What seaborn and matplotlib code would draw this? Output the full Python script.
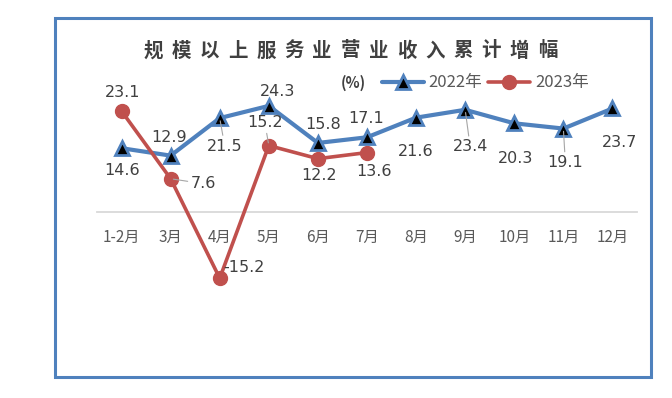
import numpy as np
import pandas as pd
import matplotlib.pyplot as plt
import seaborn as sns
from matplotlib.patches import Rectangle

months = ['1-2月', '3月', '4月', '5月', '6月', '7月', '8月', '9月', '10月', '11月', '12月']
growth_2022 = [14.6, 12.9, 21.5, 24.3, 15.8, 17.1, 21.6, 23.4, 20.3, 19.1, 23.7]
growth_2023 = [23.1, 7.6, -15.2, 15.2, 12.2, 13.6]
title = '规模以上服务业营业收入累计增幅'

# label offsets in pixels (dx, dy, leader line)
off_2022 = [(1, -22, False), (-2, 18, False), (5, -28, True), (9, 14, False), (5, 18, False),
            (-1, 19, False), (0, -34, False), (5, -37, True), (1, -35, False), (2, -34, True),
            (7, -34, False)]
off_2023 = [(1, 19, False), (33, -5, True), (24, 11, False), (-4, 23, True), (1, -17, False),
            (7, -19, False)]

BLUE = '#4F81BD'
RED = '#C0504D'
TXT = '#404040'

sns.set_theme(style='white')
plt.rcParams['font.family'] = ['Noto Sans CJK SC', 'DejaVu Sans']
plt.rcParams['axes.unicode_minus'] = False

W, H = 672, 398
fig = plt.figure(figsize=(W / 100, H / 100), dpi=100)
fig.patch.set_facecolor('white')
ax = fig.add_axes([97 / W, 1 - 321 / H, 540 / W, 240 / H])

df22 = pd.DataFrame({'month': months, 'value': growth_2022})
df23 = pd.DataFrame({'month': months[:len(growth_2023)], 'value': growth_2023})

sns.lineplot(data=df22, x='month', y='value', ax=ax, sort=False, color=BLUE, linewidth=3,
             marker='^', markersize=10.5, markerfacecolor='black', markeredgecolor=BLUE,
             markeredgewidth=2, label='2022年')
sns.lineplot(data=df23, x='month', y='value', ax=ax, sort=False, color=RED, linewidth=2.6,
             marker='o', markersize=10, markerfacecolor=RED, markeredgecolor=RED,
             markeredgewidth=1, label='2023年')

for series, offs in ((growth_2022, off_2022), (growth_2023, off_2023)):
    for i, (v, (dx, dy, lead)) in enumerate(zip(series, offs)):
        ax.annotate(f'{v}', xy=(i, v), xytext=(dx, dy), textcoords='offset pixels',
                    ha='center', va='center', fontsize=11.5, family='DejaVu Sans', color=TXT,
                    arrowprops=dict(arrowstyle='-', color='#A6A6A6', lw=0.8, shrinkA=0, shrinkB=2)
                    if lead else None, zorder=5)

ax.set_xlim(-0.5, len(months) - 0.5)
ax.set_ylim(-25, 30)
ax.set_xlabel('')
ax.set_ylabel('')
ax.set_yticks([])
for s in ('top', 'left', 'right'):
    ax.spines[s].set_visible(False)
ax.spines['bottom'].set_position(('data', 0))
ax.spines['bottom'].set_color('#D9D9D9')
ax.spines['bottom'].set_linewidth(1.3)
ax.spines['bottom'].set_zorder(0)
ax.tick_params(axis='x', length=0, pad=12, labelsize=11, labelcolor='#595959')
ax.set_facecolor('none')

handles, labels = ax.get_legend_handles_labels()
ax.get_legend().remove()
leg = fig.legend(handles, labels, loc='center left', bbox_to_anchor=(382 / W, 1 - 83 / H),
                 ncol=2, frameon=False, fontsize=12, handlelength=2.5, handletextpad=0.3,
                 columnspacing=0.35, borderpad=0, borderaxespad=0)
for t in leg.get_texts():
    t.set_color('#595959')

fig.text(353 / W, 1 - 83 / H, '(%)', ha='center', va='center', fontsize=10.5,
         fontweight='bold', color=TXT)

for i, ch in enumerate(title):
    fig.text((153 + 28.2 * i) / W, 1 - 51 / H, ch, ha='center', va='center',
             fontsize=14, fontweight='bold', color=TXT)

fig.patches.append(Rectangle((55 / W, 1 - 377 / H), 596 / W, 359 / H, transform=fig.transFigure,
                             fill=False, edgecolor=BLUE, linewidth=2.2))

fig.savefig('out.png', dpi=100)
